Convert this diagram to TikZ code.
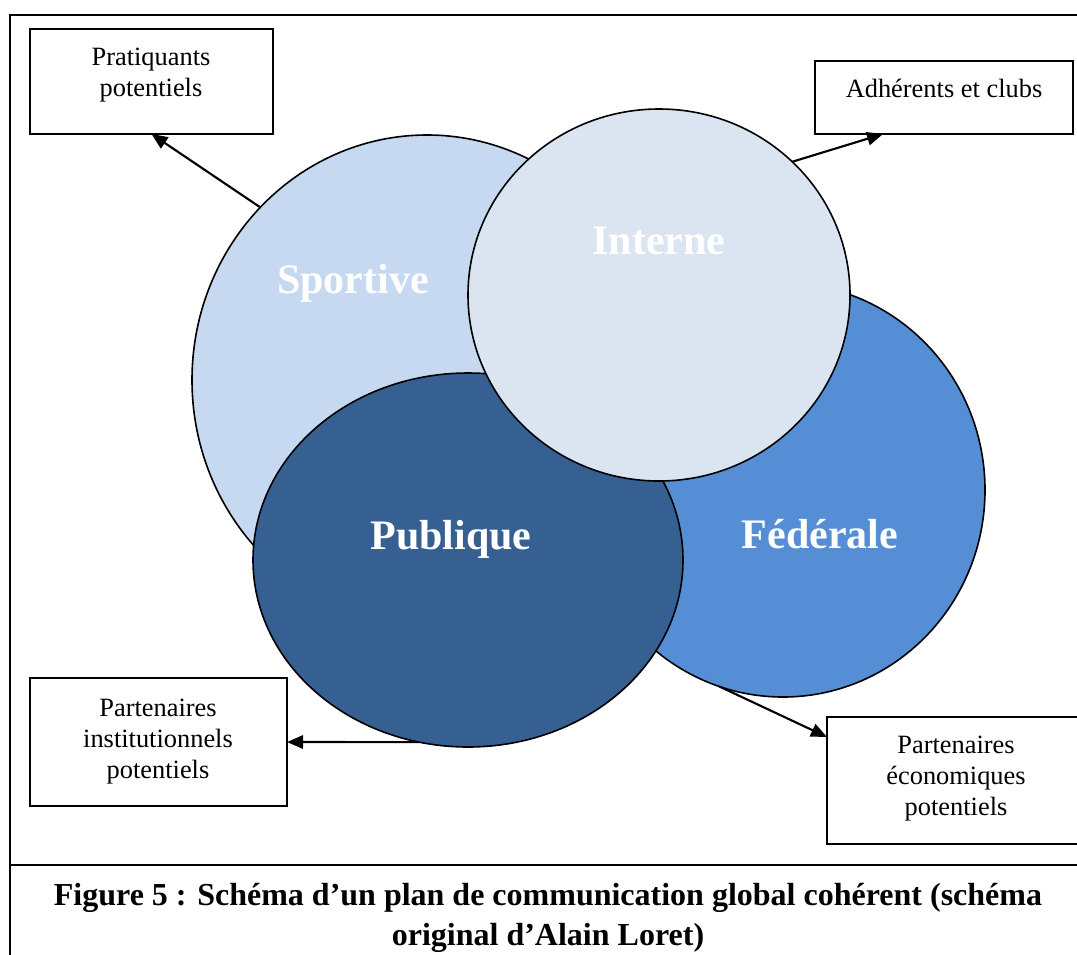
\documentclass[tikz,border=0pt]{standalone}
\usepackage{fontspec}
\setmainfont{Liberation Serif}
\usetikzlibrary{shapes.geometric,arrows.meta}
\definecolor{csport}{HTML}{C6D9F1}
\definecolor{cint}{HTML}{DBE5F1}
\definecolor{cfed}{HTML}{558ED5}
\definecolor{cpub}{HTML}{376092}
\begin{document}
\begin{tikzpicture}[x=0.75pt,y=-0.75pt,
  circ/.style={ellipse, draw=black, line width=1.2pt, inner sep=0pt, outer sep=0pt},
  lbl/.style={text=white, font=\fontsize{31.5}{36}\selectfont\bfseries, inner sep=0pt, anchor=base},
  box/.style={draw=black, line width=1.4pt, fill=white, rectangle, inner sep=0pt, outer sep=0pt, anchor=north west},
  boxtext/.style={font=\fontsize{19.8}{23.25}\selectfont, align=center, inner sep=0pt, anchor=base},
  arr/.style={-{Triangle[length=12pt,width=10pt]}, line width=1.6pt},
  frame/.style={line width=1.4pt}]
\useasboundingbox (0,0) rectangle (1077,954);
\clip (0,0) rectangle (1077,954);
% frame
\draw[frame] (1100,15) -- (10,15) -- (10,980);
\draw[frame] (10,865) -- (1100,865);
% circles
\node[circ, fill=csport, minimum width=352.5pt, minimum height=367.5pt] (sport) at (427,380) {};
\node[circ, fill=cfed, minimum width=303pt, minimum height=310.5pt] (fed) at (783,490) {};
\node[circ, fill=cpub, minimum width=322.5pt, minimum height=280.5pt] (pub) at (468,560) {};
\node[circ, fill=cint, minimum width=286.5pt, minimum height=279pt] (int) at (659,295) {};
% labels
\node[lbl] (lsport) at (353,293) {Sportive};
\node[lbl] (lint) at (659,254) {Interne};
\node[lbl] (lpub) at (451,549) {Publique};
\node[lbl] (lfed) at (820,548) {Fédérale};
% boxes
\node[box, minimum width=182.25pt, minimum height=78.75pt] (b1) at (30,29) {};
\node[box, minimum width=193.5pt, minimum height=54.75pt] (b2) at (815,61) {};
\node[box, minimum width=192.75pt, minimum height=96pt] (b3) at (30,678) {};
\node[box, minimum width=197.25pt, minimum height=95.25pt] (b4) at (827,717) {};
\node[boxtext] (t1) at (151,96) {Pratiquants\\potentiels};
\node[boxtext] (t2) at (944,97) {Adhérents et clubs};
\node[boxtext] (t3) at (158,778) {Partenaires\\institutionnels\\potentiels};
\node[boxtext] (t4) at (956,815) {Partenaires\\économiques\\potentiels};
% arrows
\draw[arr] (sport.134) -- (b1.south);
\draw[arr] (int.45) -- ([xshift=51pt]b2.south west);
\draw[arr] (pub.-105) -- (b3.east);
\draw[arr] (fed.-108) -- ([yshift=-15pt]b4.north west);
% caption
\node[font=\fontsize{24}{30}\selectfont\bfseries, align=center, anchor=base] (cap) at (548,945) {Figure 5 : Schéma d’un plan de communication global cohérent (schéma\\original d’Alain Loret)};
\end{tikzpicture}
\end{document}
